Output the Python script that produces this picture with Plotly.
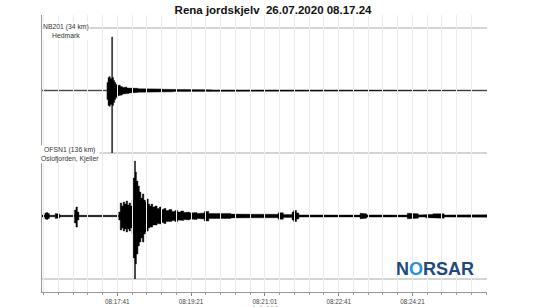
import plotly.graph_objects as go
import pandas as pd

# ---------------- data ----------------
TITLE = "Rena jordskjelv\u00a0\u00a026.07.2020 08.17.24"
START = "2020-07-26 08:15:59"      # left edge of the time axis
DURATION_S = 603                   # seconds shown
TICK0 = "2020-07-26 08:17:41"
tick_labels = ["08:17:41", "08:19:21", "08:21:01", "08:22:41", "08:24:21"]

# Station NB201 (34 km, Hedmark): envelope bins (seconds from START), upper / lower amplitude
nb_edges = [0, 88, 89.5, 91, 92.5, 94.4, 95.6, 97, 98.5, 100, 102, 104, 106, 109, 112, 115, 118,
            122, 126, 130, 135, 140, 146, 152, 158, 164, 170, 178, 186, 194, 202, 215, 230, 250, 603]
nb_up = [0.35, 8, 13, 14, 12, 54, 13, 10, 8, 6, 5, 5.5, 4, 3, 3.5, 2.5, 2.6,
         2, 2.2, 1.8, 2, 1.5, 1.7, 1.3, 1.5, 1.2, 1.4, 1.0, 1.2, 0.9, 1.0, 0.7, 0.6, 0.35]
nb_dn = [0.35, 9, 15, 16, 14, 70, 15, 12, 9, 7, 5.5, 5, 4.5, 3.5, 3, 3, 2.4,
         2.2, 2, 1.8, 1.8, 1.6, 1.6, 1.4, 1.5, 1.2, 1.3, 1.0, 1.1, 0.9, 0.9, 0.7, 0.6, 0.35]

# Station OFSN1 (136 km, Oslofjorden, Kjeller)
of_edges = [0, 4, 6, 8, 10, 18, 21, 24, 32, 36, 44, 46, 48, 50, 60, 70, 80, 90, 104, 106,
            108, 110, 112, 114, 116, 118, 120, 122, 123.5, 125.3, 126.7, 128, 130, 132, 134, 136,
            138, 140, 142, 144, 146, 148, 150, 153, 156, 159, 162, 165, 168, 172, 176, 180, 184,
            188, 192, 196, 200, 205, 210, 215, 220, 226, 232, 240, 248, 256, 266, 276, 286, 296,
            308, 320, 327, 339, 341, 345, 348, 360, 368, 380, 392, 410, 420, 431, 435, 440, 452,
            460, 475, 495, 503, 510, 520, 530, 545, 560, 575, 590, 603]
of_up = [1.1, 3, 3.5, 2.5, 0.8, 2.5, 2, 0.7, 1.1, 0.7, 6, 9, 4, 0.7, 0.6, 0.8, 0.6, 0.7, 4,
         13, 10, 14, 12, 15, 11, 13, 10, 16, 38, 55, 44, 35, 30, 24, 18,
         22, 16, 14, 17, 12, 10, 12, 9, 10, 7.5, 9, 6.5, 7.5, 5.5, 6.5, 4.5, 5.5,
         4, 5, 3.5, 4, 3, 3.5, 2.6, 3, 4.5, 2.6, 2.8, 2.2, 2.6, 1.9, 2.2, 1.7, 2,
         1.5, 1.7, 3.2, 1.6, 4, 5.5, 3, 1.1, 1.6, 1.0, 1.4, 0.9, 1.2, 0.9, 2.8, 2.2, 1.1,
         1.6, 1.0, 0.9, 2.8, 2.2, 1.1, 1.7, 2.2, 1.0, 1.3, 0.9, 1.2]
of_dn = [1.1, 3, 3.5, 2.5, 0.8, 2.5, 2, 0.7, 1.1, 0.7, 7, 11, 4, 0.7, 0.6, 0.8, 0.6, 0.7, 4,
         14, 12, 15, 13, 16, 13, 15, 12, 18, 42, 70, 48, 38, 30, 26, 22,
         26, 18, 16, 15, 12, 11, 11, 9, 9, 7.5, 8, 6.5, 7.5, 5.5, 5.5, 4.5, 5.5,
         4, 4.5, 3.5, 4, 3, 3.5, 2.6, 3, 5, 2.6, 2.6, 2.2, 2.4, 1.9, 2.2, 1.7, 1.9,
         1.5, 1.7, 3.2, 1.6, 4, 5.5, 3, 1.1, 1.6, 1.0, 1.4, 0.9, 1.2, 0.9, 2.8, 2.2, 1.1,
         1.6, 1.0, 0.9, 2.8, 2.2, 1.1, 1.7, 2.2, 1.0, 1.3, 0.9, 1.2]

station_labels = ["NB201 (34 km)<br>Hedmark", "OFSN1 (136 km)<br>Oslofjorden, Kjeller"]
AMP_RANGE = [-63, 63]

# ---------------- figure ----------------
t0 = pd.Timestamp(START)
day = TICK0[:10]


def envelope(edges, up, dn):
    xs, ys = [], []
    for i in range(len(up)):
        xs += [edges[i], edges[i + 1]]
        ys += [up[i], up[i]]
    for i in reversed(range(len(dn))):
        xs += [edges[i + 1], edges[i]]
        ys += [-dn[i], -dn[i]]
    xs = [t0 + pd.Timedelta(seconds=s) for s in xs]
    return xs, ys


fig = go.Figure()
for (edges, up, dn, yax) in [(nb_edges, nb_up, nb_dn, "y2"), (of_edges, of_up, of_dn, "y")]:
    xs, ys = envelope(edges, up, dn)
    fig.add_trace(go.Scatter(x=xs, y=ys, xaxis="x", yaxis=yax, mode="lines",
                             fill="toself", fillcolor="black",
                             line=dict(color="black", width=0.4),
                             hoverinfo="skip", showlegend=False))

# frame subplot spanning the whole plot height (for gridlines / left line)
fig.add_trace(go.Scatter(x=[t0], y=[0.5], xaxis="x", yaxis="y3", mode="markers",
                         marker=dict(opacity=0), hoverinfo="skip", showlegend=False))

H = 277.0
d_top = (292 - 28) / H
d_mid = (292 - 153) / H
d_bot = (292 - 279) / H

grid_col = "#ececec"
fig.update_layout(
    width=545, height=307,
    margin=dict(l=42, r=58, t=15, b=15, autoexpand=False),
    paper_bgcolor="white", plot_bgcolor="rgba(0,0,0,0)",
    font=dict(family="Liberation Sans, Arial, sans-serif", color="#333"),
    title=dict(text="<b>" + TITLE + "</b>", x=0.501, xref="container", xanchor="center",
               y=1 - 9.5 / 307, yref="container", yanchor="middle",
               font=dict(size=11.5, color="#111", family="Liberation Sans, Arial, sans-serif"),
               automargin=False),
    xaxis=dict(type="date", anchor="y3", automargin=False,
               range=[t0, t0 + pd.Timedelta(seconds=DURATION_S)],
               tickmode="array", tickvals=[day + " " + s for s in tick_labels],
               ticktext=tick_labels,
               ticks="outside", ticklen=3, tickcolor="#888", tickwidth=1,
               tickfont=dict(size=6.3, color="#444"),
               showline=True, linecolor="#999", linewidth=1,
               showgrid=True, gridcolor=grid_col, gridwidth=1, zeroline=False,
               minor=dict(dtick=20000, tick0=TICK0, showgrid=True, gridcolor=grid_col,
                          ticks="outside", ticklen=2, tickcolor="#999")),
    yaxis=dict(domain=[d_bot, d_mid], range=AMP_RANGE, visible=False, anchor="x"),
    yaxis2=dict(domain=[d_mid, d_top], range=AMP_RANGE, visible=False, anchor="x"),
    yaxis3=dict(domain=[0, 1], range=[0, 1], anchor="x", showline=True, linecolor="#999",
                linewidth=1, showgrid=False, zeroline=False, showticklabels=False, ticks="",
                automargin=False),
)

line_col = "#aaaaaa"
for yref, yv in [("y2 domain", 1), ("y2 domain", 0), ("y domain", 0)]:
    fig.add_shape(type="line", xref="paper", x0=0, x1=1, yref=yref, y0=yv, y1=yv,
                  line=dict(color=line_col, width=1), layer="below")

# station labels
for lab, px, py in [(station_labels[0], 66, 30.5), (station_labels[1], 70, 154.5)]:
    fig.add_annotation(text=lab, xref="paper", yref="paper",
                       x=(px - 42) / 445.0, y=(292 - py) / H,
                       xanchor="center", yanchor="middle", showarrow=False, align="center",
                       bgcolor="white", borderpad=0,
                       font=dict(size=6.8, color="#333"))

# NORSAR logo
fig.add_annotation(text="<b>N<span style='color:#2a90d6'>O</span>RSAR</b>",
                   xref="paper", yref="paper", x=(435 - 42) / 445.0, y=(292 - 269) / H,
                   xanchor="center", yanchor="middle", showarrow=False,
                   font=dict(size=18, color="#1d4a7c", family="Liberation Sans, Arial, sans-serif"))

# axis caption (partly cut at the bottom edge, as in the reference)
fig.add_annotation(text="Lokal tid", xref="paper", yref="paper",
                   x=(265 - 42) / 445.0, y=(292 - 308.5) / H, xanchor="center", yanchor="middle",
                   showarrow=False, font=dict(size=6.5, color="#444"))

fig.write_html("out.html")
